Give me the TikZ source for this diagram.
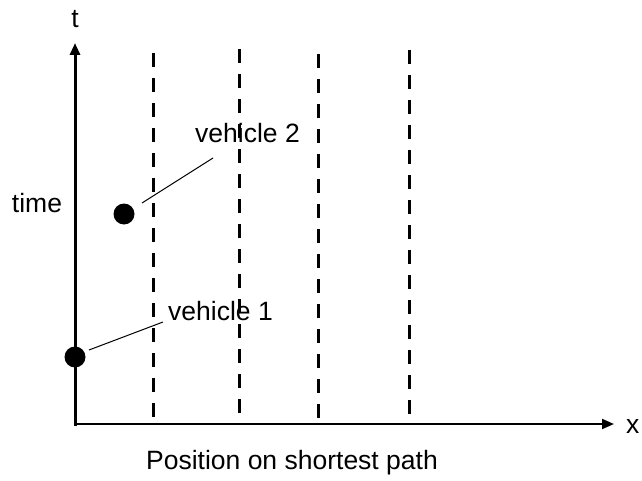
\documentclass[tikz,border=0pt]{standalone}
\usepackage{fontspec}
\setmainfont{Liberation Sans}
\usetikzlibrary{arrows.meta}
\begin{document}
\begin{tikzpicture}[x=1pt,y=-1pt,
  lbl/.style={font=\fontsize{26.5}{30}\selectfont, inner sep=0pt},
  axisline/.style={line width=2pt,-{Triangle[length=12pt,width=10pt]}},
  guide/.style={line width=3pt, dash pattern=on 14pt off 11pt},
  veh/.style={circle, fill=black, minimum size=21pt, inner sep=0pt},
  leader/.style={line width=1pt}]
\useasboundingbox (0,0) rectangle (642,481);
\coordinate (o) at (75,424);
\coordinate (ttip) at (75,43);
\coordinate (xtip) at (614,424);
\draw[axisline, line width=3pt] (75,425.5) -- (ttip);
\draw[axisline] (o) -- (xtip);
\node[lbl, anchor=base] (t) at (75,28) {t};
\node[lbl, anchor=base west] (x) at (626,433) {x};
\node[lbl, anchor=base] (time) at (37,212) {time};
\node[lbl, anchor=base] (pos) at (292,469) {Position on shortest path};
\foreach \n/\xx/\yt in {d1/153/53, d2/239/49, d3/318/54, d4/409/50}{
  \coordinate (\n t) at (\xx,\yt);
  \coordinate (\n b) at (\xx,423);
  \draw[guide] (\n t) -- (\n b);
}
\node[veh] (v1) at (75,357) {};
\node[veh] (v2) at (124,214) {};
\node[lbl, anchor=base west] (l1) at (168,320) {vehicle 1};
\node[lbl, anchor=base west] (l2) at (195,143) {vehicle 2};
\coordinate (e1) at (163,322);
\coordinate (e2) at (213,158);
\draw[leader] (89,350) -- (e1);
\draw[leader] (142,203) -- (e2);
\end{tikzpicture}
\end{document}
